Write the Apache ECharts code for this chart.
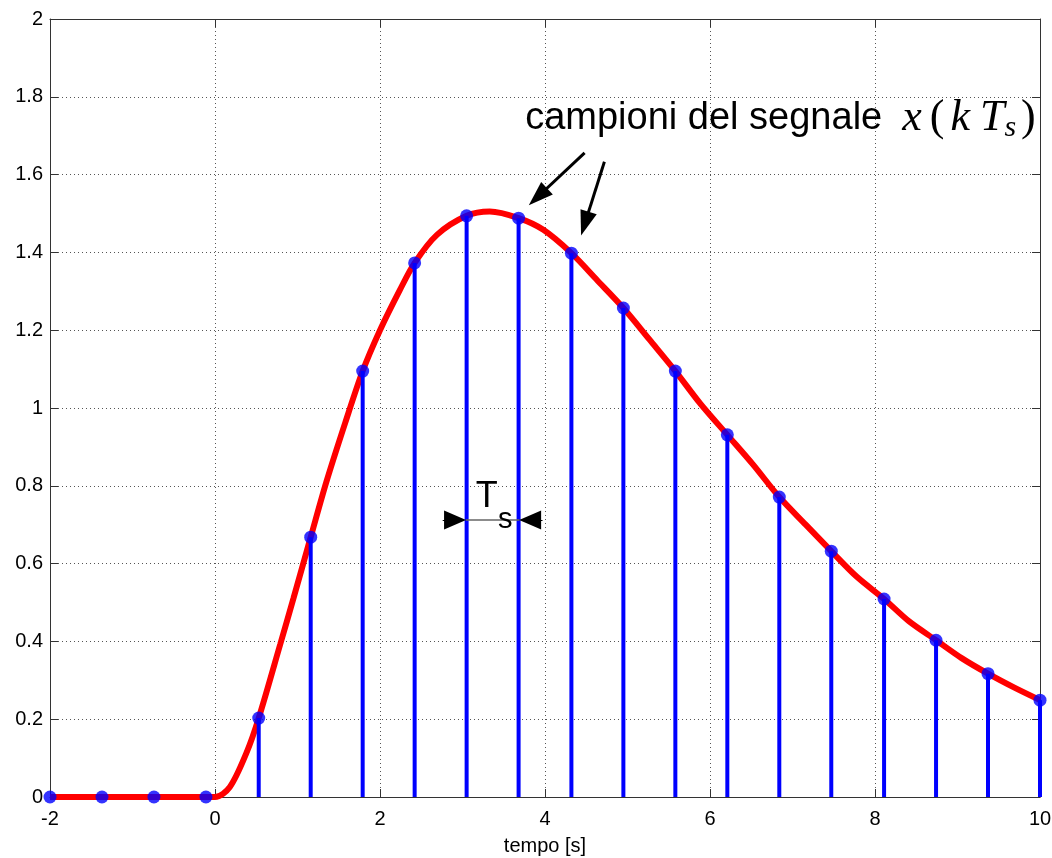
<!DOCTYPE html>
<html><head><meta charset="utf-8">
<script src="https://cdn.jsdelivr.net/npm/echarts@6/dist/echarts.min.js"></script>
<style>html,body{margin:0;padding:0;background:#fff}#c{width:1052px;height:858px}</style>
</head><body><div id="c"></div>
<script>
// sample instants k*Ts (s) and sampled values x(k Ts)
const sampleTimes  = [-2, -1.37, -0.74, -0.11, 0.53, 1.16, 1.79, 2.42, 3.05, 3.68, 4.32, 4.95, 5.58, 6.21, 6.84, 7.47, 8.11, 8.74, 9.37, 10];
const sampleValues = [0, 0, 0, 0, 0.203, 0.668, 1.095, 1.373, 1.494, 1.488, 1.398, 1.257, 1.095, 0.931, 0.771, 0.632, 0.509, 0.403, 0.317, 0.249];
// continuous signal x(t)
const curveTimes  = [-2, -1, 0, 0.18, 0.38, 0.53, 0.79, 0.95, 1.16, 1.35, 1.58, 1.79, 2.0, 2.24, 2.42, 2.69, 3.05, 3.33, 3.68, 3.98, 4.32, 4.63, 4.95, 5.27, 5.58, 5.88, 6.21, 6.52, 6.84, 7.16, 7.47, 7.78, 8.11, 8.41, 8.74, 9.05, 9.37, 9.69, 10];
const curveValues = [0, 0, 0, 0.026, 0.113, 0.203, 0.392, 0.51, 0.668, 0.81, 0.963, 1.095, 1.2, 1.303, 1.373, 1.445, 1.494, 1.505, 1.488, 1.458, 1.398, 1.329, 1.257, 1.175, 1.095, 1.012, 0.931, 0.855, 0.771, 0.700, 0.632, 0.566, 0.509, 0.452, 0.403, 0.357, 0.317, 0.281, 0.249];
// axis ranges
const xRange = [-2, 10, 2];
const yRange = [0, 2, 0.2];
// annotation anchors (data units)
const labelAnchor = [3.76, 1.745];
const bigArrows = [
  [[4.48, 1.656], [3.914, 1.543]],
  [[4.72, 1.633], [4.483, 1.474]]
];
const tsLevel = 0.712;
const tsLeftArrow = [2.76, 2.91];
const tsRightArrow = [3.97, 3.82];
const tsLine = [3.04, 3.69];
const tsT = [3.16, 0.772];
const tsS = [3.43, 0.712];

const curveData = curveTimes.map((t, i) => [t, curveValues[i]]);
const sampleData = sampleTimes.map((t, i) => [t, sampleValues[i]]);

const chart = echarts.init(document.getElementById('c'), null, {renderer: 'canvas'});
const axisCol = '#333';
const gridLine = {show: true, lineStyle: {color: '#555', width: 1, type: [1, 3]}};
const labelFont = {color: '#000', fontFamily: 'Liberation Sans, Arial, sans-serif', fontSize: 20};

const blackLine = (w) => ({color: '#000', width: w, type: 'solid'});
const option = {
  backgroundColor: '#fff',
  animation: false,
  grid: {left: 50, right: 12, top: 19, bottom: 61, containLabel: false, outerBoundsMode: 'none'},
  xAxis: [{
    type: 'value', min: xRange[0], max: xRange[1], interval: xRange[2],
    name: 'tempo [s]', nameLocation: 'middle', nameGap: 39,
    nameTextStyle: {color: '#000', fontFamily: 'Liberation Sans, Arial, sans-serif', fontSize: 20},
    axisLine: {show: true, onZero: false, lineStyle: {color: axisCol, width: 1}},
    axisTick: {show: true, inside: true, length: 8, lineStyle: {color: axisCol}},
    axisLabel: Object.assign({margin: 12}, labelFont),
    splitLine: gridLine
  }, {
    type: 'value', position: 'top', min: xRange[0], max: xRange[1], interval: xRange[2],
    axisLine: {show: true, onZero: false, lineStyle: {color: axisCol, width: 1}},
    axisTick: {show: true, inside: true, length: 8, lineStyle: {color: axisCol}},
    axisLabel: {show: false}, splitLine: {show: false}
  }],
  yAxis: [{
    type: 'value', min: yRange[0], max: yRange[1], interval: yRange[2],
    axisLine: {show: true, onZero: false, lineStyle: {color: axisCol, width: 1}},
    axisTick: {show: true, inside: true, length: 8, lineStyle: {color: axisCol}},
    axisLabel: Object.assign({margin: 7}, labelFont),
    splitLine: gridLine
  }, {
    type: 'value', position: 'right', min: yRange[0], max: yRange[1], interval: yRange[2],
    axisLine: {show: true, onZero: false, lineStyle: {color: axisCol, width: 1}},
    axisTick: {show: true, inside: true, length: 8, lineStyle: {color: axisCol}},
    axisLabel: {show: false}, splitLine: {show: false}
  }],
  series: [{
    name: 'x(t)', type: 'line', data: curveData, smooth: 0.3, showSymbol: false,
    lineStyle: {color: '#ff0000', width: 6}, z: 2, silent: true,
    markLine: {
      silent: true, animation: false, label: {show: false},
      itemStyle: {color: '#000'},
      data: [
        [{coord: bigArrows[0][0], symbol: 'none', lineStyle: blackLine(3)}, {coord: bigArrows[0][1], symbol: 'triangle', symbolSize: [17, 25]}],
        [{coord: bigArrows[1][0], symbol: 'none', lineStyle: blackLine(3)}, {coord: bigArrows[1][1], symbol: 'triangle', symbolSize: [17, 25]}],
        [{coord: [tsLeftArrow[0], tsLevel], symbol: 'none', lineStyle: blackLine(1)}, {coord: [tsLeftArrow[1], tsLevel], symbol: 'triangle', symbolSize: [19, 22]}],
        [{coord: [tsRightArrow[0], tsLevel], symbol: 'none', lineStyle: blackLine(1)}, {coord: [tsRightArrow[1], tsLevel], symbol: 'triangle', symbolSize: [19, 22]}],
        [{coord: [tsLine[0], tsLevel], symbol: 'none', lineStyle: {color: '#666', width: 1.5, type: 'solid'}}, {coord: [tsLine[1], tsLevel], symbol: 'none'}]
      ]
    }
  }, {
    name: 'stems', type: 'bar', data: sampleData, barWidth: 4,
    itemStyle: {color: '#0000ff'}, z: 3, silent: true
  }, {
    name: 'samples', type: 'scatter', data: sampleData, symbol: 'circle', symbolSize: 13,
    itemStyle: {color: '#0000ff'}, z: 4, silent: true
  }]
};
chart.setOption(option);

const pLabel = chart.convertToPixel({gridIndex: 0}, labelAnchor);
const pT = chart.convertToPixel({gridIndex: 0}, tsT);
const pS = chart.convertToPixel({gridIndex: 0}, tsS);
const sans = 'Liberation Sans, Arial, sans-serif';
const serif = 'Liberation Serif, DejaVu Serif, serif';
chart.setOption({
  graphic: [{
    type: 'text', x: pLabel[0], y: pLabel[1], z: 10,
    style: {
      text: '{a|campioni del segnale}{x|x}{p|(}{k|k}{m|T}{sub|s}{p|)}',
      verticalAlign: 'middle', align: 'left',
      rich: {
        a: {fontFamily: sans, fontSize: 38, fill: '#000', lineHeight: 50, verticalAlign: 'middle'},
        x: {fontFamily: serif, fontStyle: 'italic', fontSize: 44, fill: '#000', lineHeight: 50, verticalAlign: 'middle', padding: [0, 6, 0, 20]},
        k: {fontFamily: serif, fontStyle: 'italic', fontSize: 44, fill: '#000', lineHeight: 50, verticalAlign: 'middle', padding: [0, 10, 0, 4]},
        m: {fontFamily: serif, fontStyle: 'italic', fontSize: 44, fill: '#000', lineHeight: 50, verticalAlign: 'middle'},
        p: {fontFamily: serif, fontSize: 44, fill: '#000', lineHeight: 50, verticalAlign: 'middle', padding: [0, 2, 0, 2]},
        sub: {fontFamily: serif, fontStyle: 'italic', fontSize: 30, fill: '#000', lineHeight: 30, verticalAlign: 'bottom', padding: [0, 3, 0, 0]}
      }
    }
  }, {
    type: 'text', x: pT[0], y: pT[1], z: 10,
    style: {text: 'T', fontFamily: sans, fontSize: 36, fill: '#000', align: 'left', verticalAlign: 'middle'}
  }, {
    type: 'text', x: pS[0], y: pS[1], z: 10,
    style: {text: 's', fontFamily: sans, fontSize: 29, fill: '#000', align: 'left', verticalAlign: 'middle'}
  }]
});
</script>
</body></html>
